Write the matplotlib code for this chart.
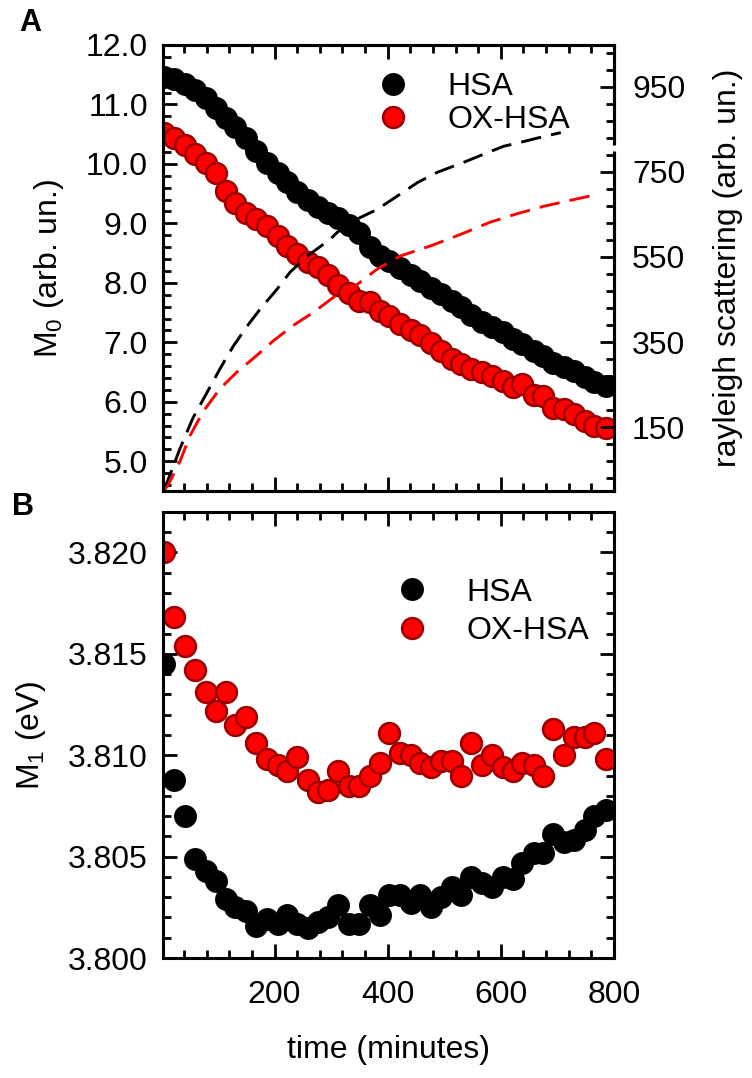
import numpy as np
from matplotlib import pyplot as plt
from matplotlib.ticker import MultipleLocator, FormatStrFormatter

plt.rcParams['font.family'] = ['Liberation Sans', 'DejaVu Sans']
plt.rcParams['mathtext.default'] = 'regular'

# sampling times (minutes), shared by both panels
time_min = [4, 22, 41, 60, 79, 97, 114, 131, 150, 168,
            186, 206, 222, 240, 259, 276, 295, 313, 331, 349,
            368, 387, 402, 421, 441, 457, 476, 495, 513, 530,
            548, 566, 585, 603, 621, 638, 658, 675, 693, 711,
            729, 748, 765, 786]

# panel A: zeroth moment
m0_hsa = [11.46, 11.42, 11.35, 11.25, 11.10, 10.94, 10.78, 10.62, 10.43, 10.22,
          10.02, 9.85, 9.70, 9.53, 9.40, 9.28, 9.18, 9.09, 8.97, 8.83,
          8.60, 8.46, 8.37, 8.25, 8.13, 8.03, 7.91, 7.82, 7.70, 7.60,
          7.46, 7.35, 7.25, 7.17, 7.05, 6.97, 6.85, 6.77, 6.66, 6.58,
          6.51, 6.42, 6.33, 6.26]
m0_ox = [10.52, 10.43, 10.31, 10.17, 10.02, 9.85, 9.55, 9.35, 9.17, 9.08,
         8.95, 8.78, 8.62, 8.48, 8.35, 8.27, 8.13, 7.97, 7.83, 7.70,
         7.68, 7.52, 7.44, 7.30, 7.21, 7.12, 6.99, 6.86, 6.72, 6.63,
         6.55, 6.50, 6.43, 6.35, 6.25, 6.30, 6.12, 6.09, 5.90, 5.88,
         5.79, 5.67, 5.59, 5.56]

# panel A: rayleigh scattering (right axis)
ray_t_hsa = [4, 10, 33, 56, 81, 104, 127, 152, 175, 205, 228, 263, 299, 311,
             346, 382, 417, 453, 488, 534, 569, 605, 640, 676, 706]
ray_hsa = [5, 20, 100, 172, 232, 288, 340, 388, 428, 475, 515, 557, 592, 608,
           639, 662, 693, 725, 749, 772, 791, 810, 821, 833, 842]
ray_t_ox = [4, 12, 33, 51, 74, 104, 134, 162, 198, 233, 269, 304, 339, 382,
            422, 476, 529, 582, 630, 676, 723, 771]
ray_ox = [0, 14, 70, 131, 187, 241, 280, 311, 353, 389, 420, 455, 478, 522,
          552, 576, 603, 632, 652, 669, 683, 697]

# panel B: first moment
m1_hsa = [3.8145, 3.8088, 3.8070, 3.8049, 3.8043, 3.8038, 3.8029, 3.8025, 3.8023, 3.8016,
          3.8019, 3.8017, 3.8021, 3.8017, 3.8015, 3.8018, 3.8020, 3.8026, 3.8017, 3.8017,
          3.8026, 3.8021, 3.8031, 3.8031, 3.8027, 3.8031, 3.8025, 3.8030, 3.8035, 3.8031,
          3.8040, 3.8037, 3.8035, 3.8040, 3.8039, 3.8047, 3.8052, 3.8052, 3.8061, 3.8057,
          3.8058, 3.8063, 3.8070, 3.8073]
m1_ox = [3.8200, 3.8168, 3.8154, 3.8142, 3.8131, 3.8122, 3.8131, 3.8115, 3.8119, 3.8106,
         3.8098, 3.8095, 3.8092, 3.8099, 3.8088, 3.8082, 3.8083, 3.8092, 3.8085, 3.8085,
         3.8090, 3.8096, 3.8111, 3.8101, 3.8100, 3.8096, 3.8094, 3.8097, 3.8097, 3.8090,
         3.8106, 3.8095, 3.8100, 3.8094, 3.8092, 3.8096, 3.8095, 3.8090, 3.8113, 3.8100,
         3.8109, 3.8109, 3.8111, 3.8098]

RED = '#ff0000'
DARKRED = '#9a0000'
TICK_FS = 23
LABEL_FS = 23


def style_axis(ax, right=True):
    for sp in ax.spines.values():
        sp.set_linewidth(2.2)
    ax.tick_params(which='both', direction='in', top=True, right=right, width=2,
                   labelsize=TICK_FS, pad=11)
    ax.tick_params(which='major', length=10)
    ax.tick_params(which='minor', length=6)
    ax.tick_params(axis='x', pad=16)
    ax.xaxis.set_major_locator(MultipleLocator(200))
    ax.xaxis.set_minor_locator(MultipleLocator(40))
    ax.set_xlim(3, 800)


def plot_points(ax, y_hsa, y_ox):
    h1, = ax.plot(time_min, y_hsa, 'o', ms=15, color='black', mec='black', mew=1.5, label='HSA')
    h2, = ax.plot(time_min, y_ox, 'o', ms=15, color=RED, mec=DARKRED, mew=1.8, label='OX-HSA')
    return [h1, h2]


fig = plt.figure(figsize=(7.52, 10.78), dpi=100)
ax_a = fig.add_axes([0.2168, 0.5445, 0.5997, 0.4138])
ax_b = fig.add_axes([0.2168, 0.1113, 0.5997, 0.4138])

# panel A
handles_a = plot_points(ax_a, m0_hsa, m0_ox)
style_axis(ax_a, right=False)
ax_a.set_ylim(4.5, 12.0)
ax_a.yaxis.set_major_locator(MultipleLocator(1.0))
ax_a.yaxis.set_minor_locator(MultipleLocator(0.2))
ax_a.yaxis.set_major_formatter(FormatStrFormatter('%.1f'))
ax_a.tick_params(axis='x', labelbottom=False)
ax_a.set_ylabel('M$_0$ (arb. un.)', fontsize=LABEL_FS, labelpad=14)

ax_r = ax_a.twinx()
ax_r.plot(ray_t_hsa, ray_hsa, color='black', lw=2.1, dashes=(7, 3.5))
ax_r.plot(ray_t_ox, ray_ox, color=RED, lw=2.1, dashes=(7, 3.5))
ax_r.set_ylim(0, 1048)
for sp in ax_r.spines.values():
    sp.set_linewidth(2.2)
ax_r.tick_params(which='both', direction='in', width=2, labelsize=TICK_FS, pad=13)
ax_r.tick_params(which='major', length=10)
ax_r.tick_params(which='minor', length=6)
ax_r.yaxis.set_major_locator(MultipleLocator(200, offset=150))
ax_r.yaxis.set_minor_locator(MultipleLocator(40, offset=30))
ax_r.set_ylabel('rayleigh scattering (arb. un.)', fontsize=LABEL_FS, labelpad=20)
# small break in the right axis
ax_r.plot([1, 1], [800, 813], transform=ax_r.get_yaxis_transform(), color='white',
          lw=5, solid_capstyle='butt', clip_on=False, zorder=10)
ax_r.legend(handles=handles_a, loc='upper left', bbox_to_anchor=(0.4745, 0.940),
            frameon=False, fontsize=LABEL_FS, borderpad=0, borderaxespad=0,
            handlelength=1.0, handletextpad=1.2, labelspacing=0.1)

# panel B
handles_b = plot_points(ax_b, m1_hsa, m1_ox)
style_axis(ax_b)
ax_b.set_ylim(3.800, 3.822)
ax_b.yaxis.set_major_locator(MultipleLocator(0.005))
ax_b.yaxis.set_minor_locator(MultipleLocator(0.001))
ax_b.yaxis.set_major_formatter(FormatStrFormatter('%.3f'))
ax_b.set_ylabel('M$_1$ (eV)', fontsize=LABEL_FS, labelpad=14)
ax_b.set_xlabel('time (minutes)', fontsize=LABEL_FS, labelpad=18)
ax_b.legend(handles=handles_b, loc='upper left', bbox_to_anchor=(0.517, 0.853),
            frameon=False, fontsize=LABEL_FS, borderpad=0, borderaxespad=0,
            handlelength=1.0, handletextpad=1.2, labelspacing=0.28)

fig.text(0.026, 0.979, 'A', fontsize=22, fontweight='bold', va='center')
fig.text(0.016, 0.530, 'B', fontsize=22, fontweight='bold', va='center')

fig.savefig('out.png', dpi=100)
